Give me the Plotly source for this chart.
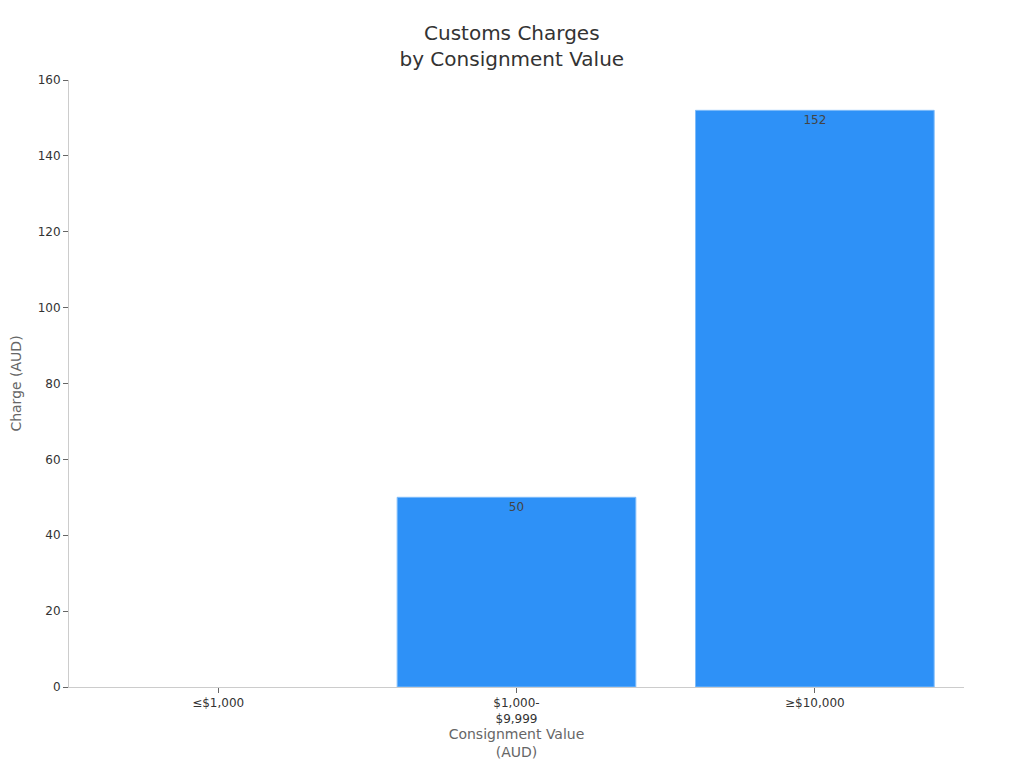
import plotly.graph_objects as go

categories = ["≤$1,000", "$1,000-<br>$9,999", "≥$10,000"]
charges = [0, 50, 152]
labels = ["0", "50", "152"]

fig = go.Figure(
    go.Bar(
        x=categories,
        y=charges,
        text=labels,
        textposition="inside",
        insidetextanchor="end",
        textfont=dict(color="#444444", size=12),
        marker=dict(color="#2e91f7", line=dict(color="#7fbcfa", width=[0, 1, 1])),
    )
)

fig.update_layout(
    width=1024,
    height=768,
    font=dict(family="DejaVu Sans", color="#333333"),
    paper_bgcolor="white",
    plot_bgcolor="white",
    bargap=0.2,
    margin=dict(l=61, r=68, t=72, b=89),
    title=dict(
        text="Customs Charges<br>by Consignment Value",
        x=0.492,
        xanchor="center",
        y=0.958,
        font=dict(size=20, color="#333333"),
    ),
    showlegend=False,
)
fig.update_xaxes(
    title=dict(text="Consignment Value<br>(AUD)", font=dict(size=14, color="#666666"), standoff=3),
    automargin=False,
    showline=True,
    linecolor="#cccccc",
    ticks="outside",
    tickcolor="#666666",
    ticklen=5,
    tickfont=dict(size=12, color="#333333"),
    showgrid=False,
)
fig.update_yaxes(
    title=dict(text="Charge (AUD)", font=dict(size=14, color="#666666")),
    automargin=False,
    range=[0, 160],
    dtick=20,
    showline=True,
    linecolor="#cccccc",
    ticks="outside",
    tickcolor="#666666",
    ticklen=5,
    tickfont=dict(size=12, color="#333333"),
    showgrid=False,
    zeroline=False,
)

fig.write_html("out.html")
